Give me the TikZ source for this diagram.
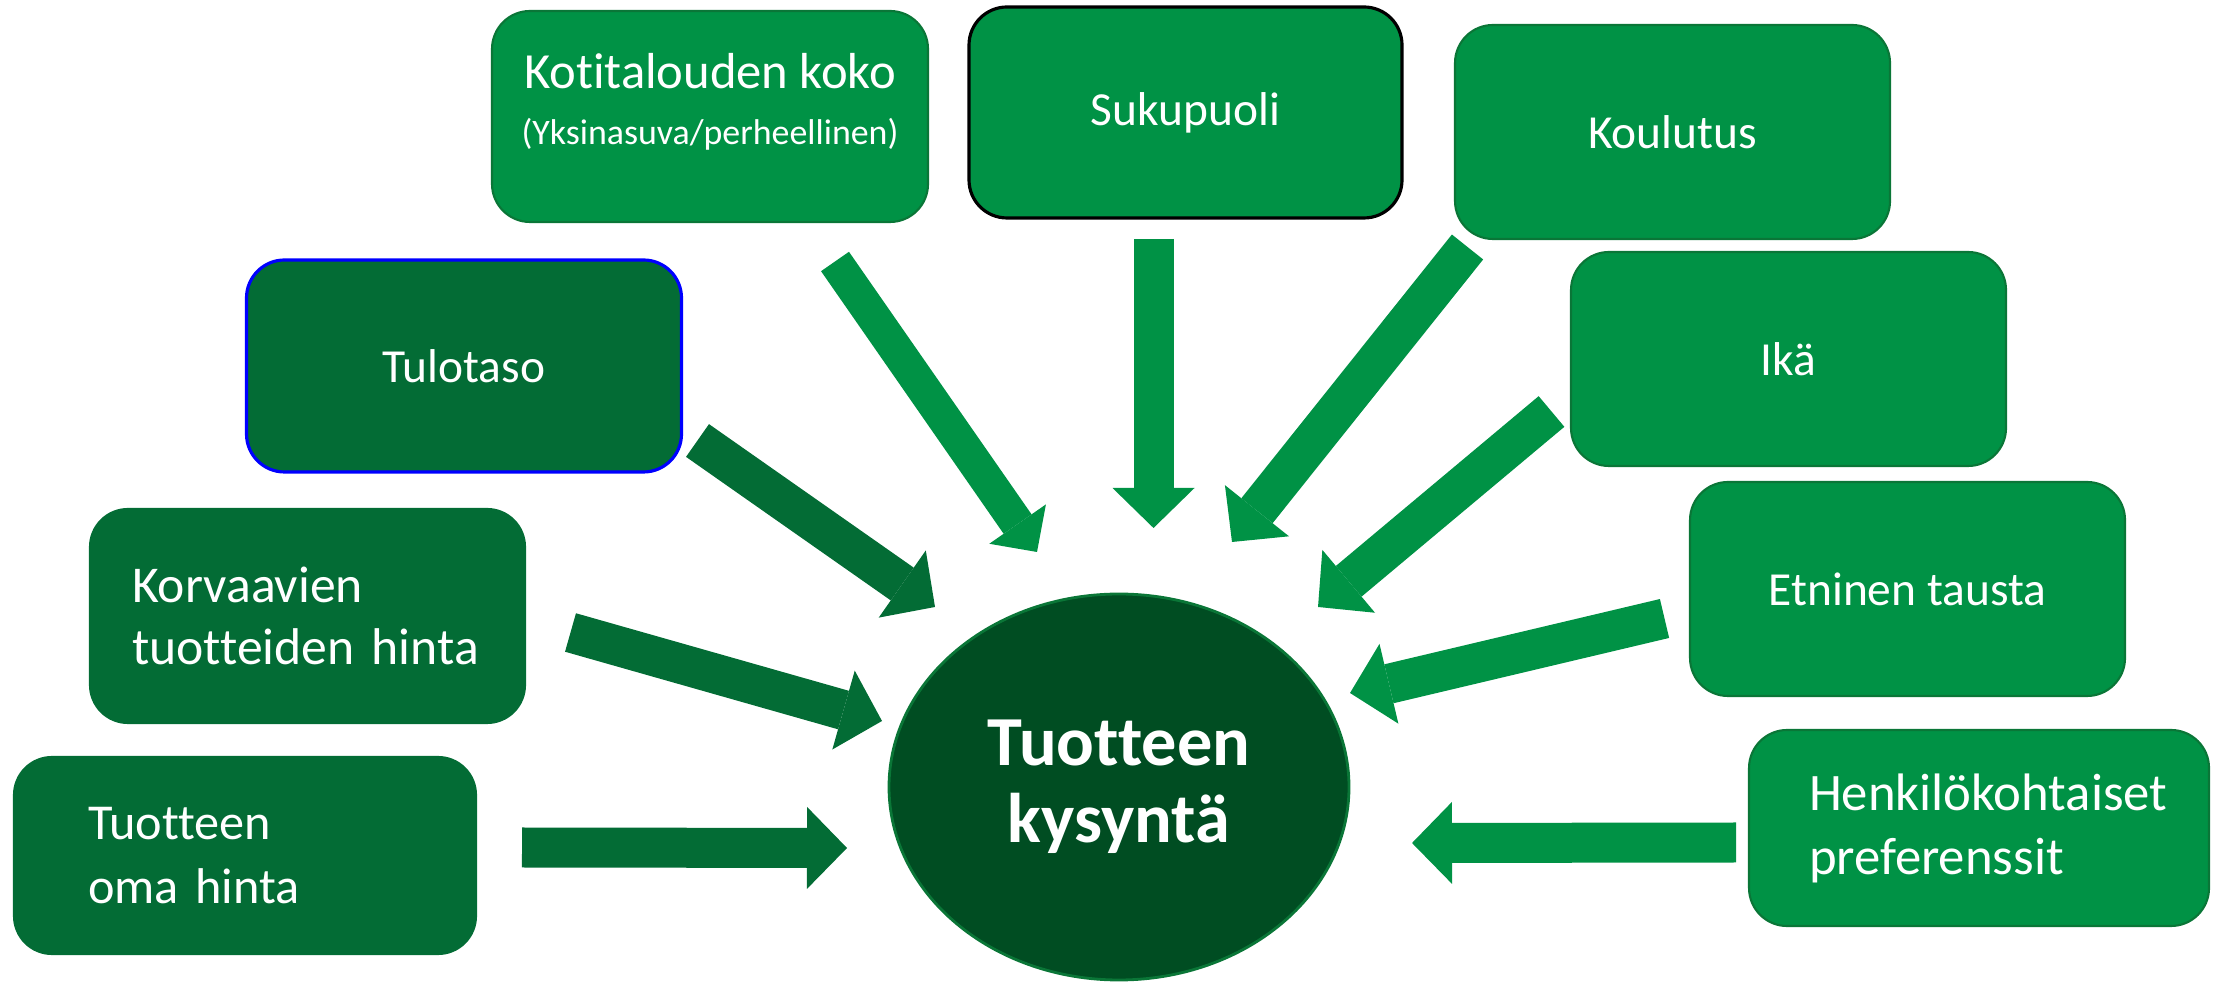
\documentclass[tikz,border=0pt]{standalone}
\usepackage{fontspec}
\setmainfont{Carlito}[Ligatures=NoCommon]
\usetikzlibrary{arrows.meta, positioning, shapes.geometric}
\definecolor{vihrea}{RGB}{0,146,69}
\definecolor{tumma}{RGB}{3,108,53}
\definecolor{syva}{RGB}{0,77,34}
\definecolor{reuna}{RGB}{10,118,55}

\tikzset{
    laatikko/.style={rectangle, rounded corners=0.38cm, fill=vihrea, draw=reuna, line width=0.6pt,
        text=white, minimum width=4.35cm, minimum height=2.14cm, align=center,
        font=\fontsize{13.5}{16}\selectfont},
    tummalaatikko/.style={laatikko, fill=tumma, draw=tumma, align=left},
    nuoli/.style={line width=0.4cm, -{Triangle[width=0.82cm, length=0.4cm, line width=0pt]}},
}

\begin{document}
\begin{tikzpicture}
        \useasboundingbox (0,0) rectangle (22.18,9.82);

        \node[ellipse, fill=syva, draw=reuna, line width=0.8pt, minimum width=4.6cm, minimum height=3.86cm,
            text=white, align=center, font=\bfseries\fontsize{20}{22}\selectfont] (kysynta) at (11.19,1.95) {Tuotteen\\kysyntä};

        \node[laatikko, minimum width=4.36cm, minimum height=2.11cm] (koko) at (7.10,8.655)
            {{\fontsize{14.4}{14}\selectfont Kotitalouden koko}\\{\fontsize{10.2}{14}\selectfont (Yksinasuva/perheellinen)}\\[-6pt]};
        \node[laatikko, draw=black, line width=0.9pt, minimum width=4.33cm, minimum height=2.11cm] (suku) at (11.855,8.695) {Sukupuoli};
        \node[laatikko] (koul) at (16.725,8.50) {Koulutus};
        \node[laatikko] (ika) at (17.885,6.23) {Ikä};
        \node[laatikko] (etn) at (19.075,3.93) {Etninen tausta};
        \node[laatikko, align=left, text width=3.40cm, minimum width=4.60cm, minimum height=1.96cm,
            font=\fontsize{15}{18.2}\selectfont] (henk) at (19.79,1.54) {Henkilökohtaiset\\preferenssit};

        \node[tummalaatikko, draw=blue, line width=0.9pt, align=center, minimum height=2.12cm] (tulo) at (4.64,6.16) {Tulotaso};
        \node[tummalaatikko, text width=3.51cm, font=\fontsize{14.7}{17.6}\selectfont] (korv) at (3.075,3.66) {Korvaavien\\tuotteiden hinta};
        \node[tummalaatikko, text width=3.14cm, minimum width=4.62cm, minimum height=1.97cm,
            font=\fontsize{14.3}{18.2}\selectfont] (oma) at (2.45,1.265) {Tuotteen\\oma hinta};

        % nuolten alku- ja loppupisteet
        \coordinate (koko-a) at (8.35,7.205);   \coordinate (koko-b) at (10.37,4.30);
        \coordinate (suku-a) at (11.535,7.43);  \coordinate (suku-b) at (11.535,4.54);
        \coordinate (koul-a) at (14.675,7.35);  \coordinate (koul-b) at (12.32,4.40);
        \coordinate (ika-a) at (15.515,5.705);  \coordinate (ika-b) at (13.18,3.75);
        \coordinate (etn-a) at (16.645,3.635);  \coordinate (etn-b) at (13.50,2.89);
        \coordinate (henk-a) at (17.36,1.395);  \coordinate (henk-b) at (14.12,1.39);
        \coordinate (oma-a) at (5.22,1.345);    \coordinate (oma-b) at (8.47,1.34);
        \coordinate (korv-a) at (5.705,3.495);  \coordinate (korv-b) at (8.82,2.61);
        \coordinate (tulo-a) at (6.975,5.415);  \coordinate (tulo-b) at (9.35,3.75);

        \draw[nuoli, vihrea, line width=0.34cm, -{Triangle[width=0.69cm, length=0.34cm, line width=0pt]}] (koko-a) -- (koko-b);
        \draw[nuoli, vihrea] (suku-a) -- (suku-b);
        \draw[nuoli, vihrea] (koul-a) -- (koul-b);
        \draw[nuoli, vihrea] (ika-a) -- (ika-b);
        \draw[nuoli, vihrea] (etn-a) -- (etn-b);
        \draw[nuoli, vihrea] (henk-a) -- (henk-b);
        \draw[nuoli, tumma] (oma-a) -- (oma-b);
        \draw[nuoli, tumma] (korv-a) -- (korv-b);
        \draw[nuoli, tumma] (tulo-a) -- (tulo-b);
    \end{tikzpicture}
\end{document}
